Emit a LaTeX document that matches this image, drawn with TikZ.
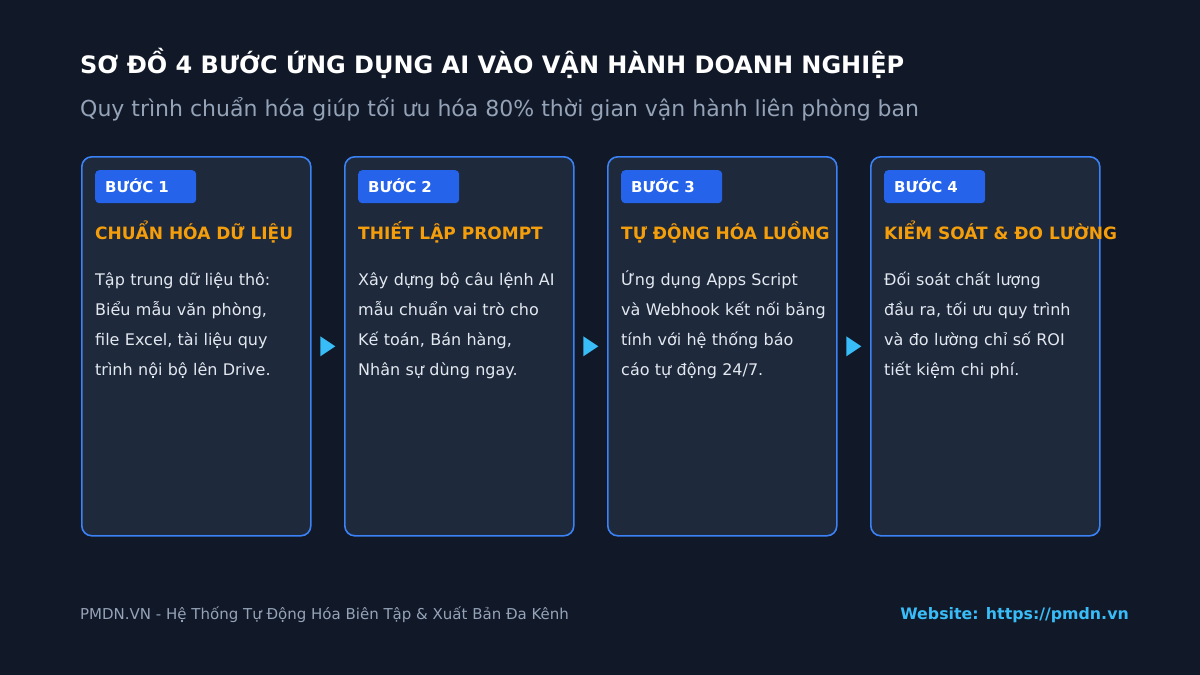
\documentclass[tikz,border=0pt]{standalone}
\usepackage{fontspec}
\setmainfont{DejaVu Sans}
\usetikzlibrary{calc}
\definecolor{bg}{HTML}{111827}
\definecolor{cardfill}{HTML}{1E293B}
\definecolor{cardline}{HTML}{3B82F6}
\definecolor{badgefill}{HTML}{2563EB}
\definecolor{orangetxt}{HTML}{F59E0B}
\definecolor{bodytxt}{HTML}{E2E8F0}
\definecolor{subtxt}{HTML}{94A3B8}
\definecolor{accent}{HTML}{38BDF8}
\tikzset{
  txt/.style={inner sep=0pt, anchor=base west},
  card/.style={draw=cardline, line width=1.6pt, fill=cardfill, rounded corners=10pt,
    minimum width=229pt, minimum height=379pt, inner sep=0pt},
  badge/.style={fill=badgefill, rounded corners=4pt, minimum width=101pt, minimum height=33pt,
    inner xsep=10pt, inner ysep=0pt, text width=81pt, align=left, text=white,
    text height=11pt, text depth=0pt, font=\fontsize{15}{18}\selectfont\bfseries, anchor=north west},
  steptitle/.style={txt, text=orangetxt, font=\fontsize{17}{20}\selectfont\bfseries},
  body/.style={inner sep=0pt, text=bodytxt, font=\fontsize{16}{30}\selectfont, align=left, text width=220pt, anchor=north west},
  tri/.style={fill=accent},
}
\newcommand{\firstline}{\rule{0pt}{20pt}}
\begin{document}
\begin{tikzpicture}[x=1pt,y=-1pt]
\useasboundingbox (0,0) rectangle (1200,675);
\fill[bg] (0,0) rectangle (1200,675);
\node[txt, text=white, font=\fontsize{24}{28}\selectfont\bfseries] (title) at (80,73) {SƠ ĐỒ 4 BƯỚC ỨNG DỤNG AI VÀO VẬN HÀNH DOANH NGHIỆP};
\node[txt, text=subtxt, font=\fontsize{22}{26}\selectfont] (subtitle) at (80,116) {Quy trình chuẩn hóa giúp tối ưu hóa 80\% thời gian vận hành liên phòng ban};

\foreach \i/\x/\t/\b in {
 1/81/{CHUẨN HÓA DỮ LIỆU}/{Tập trung dữ liệu thô:\\Biểu mẫu văn phòng,\\file Excel, tài liệu quy\\trình nội bộ lên Drive.},
 2/344/{THIẾT LẬP PROMPT}/{Xây dựng bộ câu lệnh AI\\mẫu chuẩn vai trò cho\\Kế toán, Bán hàng,\\Nhân sự dùng ngay.},
 3/607/{TỰ ĐỘNG HÓA LUỒNG}/{Ứng dụng Apps Script\\và Webhook kết nối bảng\\tính với hệ thống báo\\cáo tự động 24/7.},
 4/870/{KIỂM SOÁT \& ĐO LƯỜNG}/{Đối soát chất lượng\\đầu ra, tối ưu quy trình\\và đo lường chỉ số ROI\\tiết kiệm chi phí.}}{
  \node[card, anchor=north west] (c\i) at (\x,156) {};
  \node[badge] (b\i) at (\x+14,170) {BƯỚC \i};
  \node[steptitle] (t\i) at (\x+14,239) {\t};
  \node[body] (d\i) at (\x+14,265.5) {\firstline\b};
}
\foreach \a/\b in {c1/c2, c2/c3, c3/c4}{
  \path ($(\a.east)!0.5!(\b.west)$) coordinate (m\a);
  \fill[tri] (m\a) ++(-7.5,-10) -- ++(15,10) -- ++(-15,10) -- cycle;
}

\node[txt, text=subtxt, font=\fontsize{15}{18}\selectfont] (footl) at (80,619) {PMDN.VN - Hệ Thống Tự Động Hóa Biên Tập \& Xuất Bản Đa Kênh};
\node[inner sep=0pt, anchor=base east, text=accent, font=\fontsize{15.8}{19}\selectfont\bfseries] (footr) at (1129,619) {Website: https://pmdn.vn};
\end{tikzpicture}
\end{document}
